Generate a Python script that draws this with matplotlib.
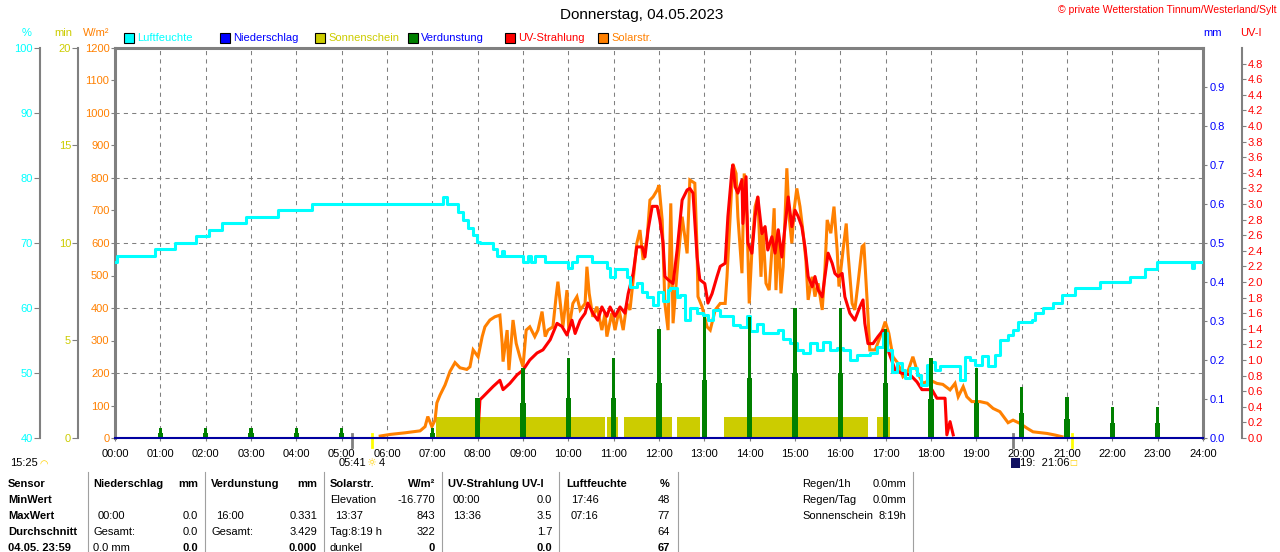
import numpy as np
import matplotlib.pyplot as plt
from matplotlib.lines import Line2D
from matplotlib.patches import Rectangle

plt.rcParams['font.family'] = ['Liberation Sans', 'DejaVu Sans']

W, H = 1280, 552

# ---------------- Daten (Zeit in Stunden) ----------------
# Luftfeuchte [%]
hum_t = [0.00, 0.05, 0.88, 1.32, 1.79, 2.08, 2.37, 2.89, 3.59, 4.35, 7.24, 7.32, 7.50, 7.57,
         7.68, 7.79, 7.90, 7.99, 8.05, 8.34, 8.43, 8.54, 8.58, 8.93, 9.00, 9.11, 9.18, 9.26,
         9.49, 9.99, 10.08, 10.19, 10.52, 10.85, 10.92, 11.03, 11.21, 11.29, 11.36, 11.51,
         11.63, 11.74, 11.87, 11.98, 12.09, 12.20, 12.24, 12.40, 12.46, 12.57, 12.68, 12.84,
         12.97, 13.08, 13.19, 13.35, 13.50, 13.63, 13.79, 13.94, 14.01, 14.16, 14.29, 14.52,
         14.63, 14.74, 14.89, 15.04, 15.18, 15.33, 15.49, 15.62, 15.77, 15.93, 16.06, 16.21,
         16.37, 16.50, 16.65, 16.81, 16.94, 17.03, 17.14, 17.25, 17.36, 17.43, 17.54, 17.69,
         17.77, 17.91, 17.98, 18.09, 18.20, 18.57, 18.64, 18.75, 18.86, 18.97, 19.13, 19.26,
         19.41, 19.52, 19.70, 19.81, 19.92, 20.23, 20.29, 20.47, 20.69, 20.89, 21.18, 21.73,
         22.39, 22.72, 22.99, 23.71, 23.76, 23.80, 24.00]
hum_v = [67.1, 68, 69, 70, 71, 72, 73, 74, 75, 76, 77, 76, 76, 74.8,
         73.5, 72.3, 71.2, 70.2, 70, 69, 68, 68.8, 68, 68, 67.1, 68, 67.1, 68,
         67.1, 66.1, 67.1, 68, 67.1, 66.1, 64.8, 66, 66, 64.8, 63.3, 63.8,
         62.5, 61.7, 60.5, 62.5, 61, 62.8, 63, 61.7, 62, 58.2, 60, 59.2,
         58.9, 58.2, 59.7, 58.7, 58.7, 57.4, 57.1, 58.7, 56.4, 57.6, 56.1, 56.1,
         56.6, 55.3, 54.6, 53.5, 53, 54.6, 53.5, 54.8, 53.5, 53.8, 53.5, 52,
         52.8, 52.8, 53, 54, 56.1, 53.5, 50.2, 51.5, 50.5, 49.2, 50.7, 49.7,
         48.2, 51.2, 51.7, 50.5, 51, 51.1, 48.9, 52.5, 52, 51.2, 52.6, 51.1,
         52.8, 55.1, 55.8, 56.6, 57.9, 58.2, 59.2, 60, 60.8, 62, 63, 64,
         64.8, 66, 67, 67, 66.1, 67, 67]

# Solarstrahlung [W/m2]
sol_t = [5.85, 6.07, 6.40, 6.73, 6.84, 6.90, 6.99, 7.06, 7.10, 7.17, 7.28, 7.39, 7.50, 7.61,
         7.76, 7.83, 7.90, 8.01, 8.10, 8.16, 8.27, 8.38, 8.49, 8.54, 8.56, 8.65, 8.69, 8.78,
         8.85, 8.93, 9.00, 9.07, 9.15, 9.26, 9.33, 9.42, 9.49, 9.55, 9.66, 9.73, 9.77, 9.84,
         9.88, 9.97, 10.01, 10.10, 10.19, 10.26, 10.37, 10.41, 10.46, 10.54, 10.63, 10.74,
         10.81, 10.85, 10.96, 11.03, 11.12, 11.21, 11.29, 11.36, 11.43, 11.51, 11.58, 11.65,
         11.74, 11.80, 11.87, 11.96, 12.00, 12.07, 12.13, 12.20, 12.26, 12.31, 12.42, 12.51,
         12.62, 12.68, 12.79, 12.84, 12.86, 12.95, 13.06, 13.13, 13.24, 13.35, 13.46, 13.50,
         13.57, 13.63, 13.70, 13.74, 13.83, 13.88, 13.94, 13.99, 14.05, 14.12, 14.18, 14.25,
         14.29, 14.36, 14.43, 14.49, 14.54, 14.58, 14.63, 14.69, 14.74, 14.82, 14.87, 14.93,
         14.98, 15.04, 15.11, 15.18, 15.24, 15.29, 15.38, 15.44, 15.51, 15.60, 15.66, 15.71,
         15.79, 15.86, 15.93, 15.97, 16.06, 16.13, 16.17, 16.26, 16.32, 16.39, 16.48, 16.52,
         16.59, 16.65, 16.77, 16.88, 16.99, 17.07, 17.16, 17.27, 17.38, 17.49, 17.60, 17.71,
         17.82, 17.98, 18.13, 18.26, 18.42, 18.53, 18.60, 18.71, 18.79, 18.90, 19.08, 19.24,
         19.37, 19.52, 19.70, 19.81, 19.96, 20.12, 20.25, 20.56, 20.74, 20.89]
sol_v = [6, 11, 16, 22, 35, 66, 35, 55, 108, 132, 163, 205, 232, 216,
         211, 219, 271, 250, 312, 342, 363, 373, 378, 292, 235, 332, 209, 363,
         291, 250, 219, 332, 342, 312, 332, 389, 312, 332, 342, 435, 481, 394,
         342, 455, 332, 414, 435, 394, 414, 527, 445, 373, 404, 332,
         384, 312, 384, 332, 394, 332, 414, 394, 486, 599, 640, 548,
         619, 732, 742, 763, 778, 671, 414, 332, 722, 353, 548, 681,
         568, 794, 784, 578, 435, 404, 342, 332, 394, 414, 414, 496,
         681, 843, 814, 681, 507, 814, 681, 414, 578, 712, 742, 496,
         650, 476, 455, 578, 707, 455, 640, 445, 527, 830, 681, 599,
         702, 768, 712, 630, 548, 425, 496, 435, 476, 394, 517, 671,
         630, 712, 578, 466, 578, 660, 568, 414, 394, 476, 589, 594,
         425, 271, 271, 312, 358, 322, 250, 230, 189, 205, 250, 199,
         168, 178, 168, 165, 148, 168, 127, 158, 127, 112, 112, 107,
         91, 81, 47, 55, 45, 30, 19, 14, 9, 4]

# UV-Strahlung [UV-I]
uv_t = [8.01, 8.05, 8.12, 8.34, 8.49, 8.56, 8.71, 8.87, 9.00, 9.15, 9.31, 9.44, 9.60, 9.75,
        9.86, 9.97, 10.08, 10.15, 10.26, 10.37, 10.43, 10.54, 10.65, 10.74, 10.85, 10.92,
        11.03, 11.14, 11.25, 11.32, 11.43, 11.51, 11.63, 11.69, 11.76, 11.85, 11.96, 12.02,
        12.09, 12.13, 12.20, 12.31, 12.40, 12.51, 12.62, 12.68, 12.75, 12.84, 12.90, 13.01,
        13.08, 13.17, 13.28, 13.35, 13.46, 13.52, 13.61, 13.63, 13.68, 13.74, 13.83, 13.85,
        13.92, 13.96, 14.05, 14.12, 14.18, 14.27, 14.34, 14.40, 14.49, 14.56, 14.63, 14.71,
        14.78, 14.85, 14.93, 15.00, 15.07, 15.15, 15.22, 15.29, 15.38, 15.44, 15.51, 15.60,
        15.66, 15.73, 15.82, 15.88, 15.95, 16.04, 16.10, 16.21, 16.32, 16.43, 16.50, 16.54,
        16.61, 16.72, 16.83, 16.94, 17.05, 17.21, 17.36, 17.54, 17.69, 17.80, 18.02, 18.13,
        18.31, 18.35, 18.42, 18.49]
uv_v = [0.10, 0.49, 0.53, 0.66, 0.74, 0.62, 0.70, 0.81, 0.87, 1.00, 1.09, 1.13, 1.26, 1.47,
        1.43, 1.32, 1.51, 1.34, 1.51, 1.60, 1.73, 1.60, 1.51, 1.68, 1.56, 1.68,
        1.56, 1.68, 1.60, 1.85, 2.11, 2.45, 2.45, 2.32, 2.67, 2.97, 2.97, 2.79,
        2.50, 2.07, 2.03, 1.98, 2.41, 3.05, 3.18, 3.20, 3.14, 2.32, 2.03, 1.98,
        1.73, 1.85, 2.07, 2.20, 2.24, 2.84, 3.44, 3.50, 3.22, 3.14, 3.31, 2.75,
        3.35, 2.50, 2.37, 2.84, 3.09, 2.62, 2.71, 2.41, 2.58, 2.37, 2.67, 2.32,
        2.71, 3.09, 2.71, 2.92, 2.84, 2.71, 2.45, 2.07, 1.94, 2.07, 1.90, 1.81,
        2.07, 2.37, 2.24, 2.11, 2.07, 2.11, 1.81, 1.60, 1.51, 1.68, 1.77, 1.47,
        1.21, 1.21, 1.30, 1.38, 1.13, 0.87, 0.83, 0.81, 0.72, 0.62, 0.62, 0.51,
        0.51, 0.04, 0.21, 0.04]

# Verdunstung [mm] je Stunde (Spitze / Sockel)
evap_h = list(range(1, 24))
evap_hi = [0.026, 0.026, 0.026, 0.026, 0.026, 0.0, 0.026, 0.102, 0.179, 0.205, 0.205, 0.28,
           0.31, 0.31, 0.333, 0.333, 0.28, 0.205, 0.18, 0.13, 0.104, 0.079, 0.079]
evap_lo = [0.012, 0.012, 0.012, 0.012, 0.012, 0.0, 0.012, 0.102, 0.089, 0.102, 0.102, 0.14,
           0.149, 0.153, 0.166, 0.166, 0.14, 0.10, 0.09, 0.063, 0.05, 0.038, 0.038]

# Sonnenschein [min] Abschnitte
sun_start = [7.08, 10.85, 11.23, 12.40, 13.43, 16.81]
sun_end = [10.81, 11.10, 12.29, 12.90, 16.61, 17.10]
sun_val = [1.1, 1.1, 1.1, 1.1, 1.1, 1.1]

# Niederschlag [mm]
rain_t = [0, 24]
rain_v = [0.0, 0.0]

# Sonnenauf-/untergang, Daemmerung
sun_rise, sun_set = 5.68, 21.10
dawn, dusk = 5.22, 19.81

hours = list(range(25))
hour_labels = ['%02d:00' % h for h in hours]

C_CYAN = '#00FFFF'
C_BLUE = '#0000FF'
C_OLIVE = '#CCCC00'
C_GREEN = '#008000'
C_RED = '#FF0000'
C_ORANGE = '#FF8000'
C_GRAY = '#808080'

fig = plt.figure(figsize=(W / 100, H / 100), dpi=100)
fig.patch.set_facecolor('white')


def px(x, y):
    return x / W, 1 - y / H


def ftext(x, y, s, **kw):
    kw.setdefault('va', 'center')
    kw.setdefault('fontsize', 8)
    fig.text(*px(x, y), s, **kw)


ax = fig.add_axes([115 / W, 1 - 438 / H, 1088 / W, 390 / H])
ax.set_zorder(2)
ax.patch.set_visible(False)

ax_s = ax.twinx()
ax_s.set_zorder(1)
ax_uv = ax.twinx()
ax_uv.set_zorder(3)
ax_h = ax.twinx()
ax_h.set_zorder(4)
ax_mm = ax.twinx()
ax_mm.set_zorder(5)

# Hauptachse W/m2
ax.set_xlim(0, 24)
ax.set_ylim(0, 1200)
ax.set_xticks(hours)
ax.set_xticklabels(hour_labels)
ax.set_yticks(range(0, 1300, 100))
ax.tick_params(axis='y', direction='out', length=3, color=C_GRAY, labelcolor=C_ORANGE,
               labelsize=8, pad=1)
ax.tick_params(axis='x', direction='out', length=2, color=C_GRAY, labelsize=8, pad=6)
ax.grid(axis='x', color=C_GRAY, linestyle=(0, (4, 4)), linewidth=0.75)
for g in range(200, 1200, 200):
    ax.axhline(g, color=C_GRAY, linestyle=(0, (4, 4)), linewidth=0.75, zorder=0.5)
for side in ['left', 'top', 'right']:
    ax.spines[side].set_color(C_GRAY)
    ax.spines[side].set_linewidth(2.2)
ax.spines['bottom'].set_visible(False)

ax.plot(sol_t, sol_v, color=C_ORANGE, lw=2.2, solid_joinstyle='miter')

# Sonnenschein
ax_s.set_ylim(0, 20)
ax_s.bar(sun_start, sun_val, width=np.array(sun_end) - np.array(sun_start), align='edge',
         color=C_OLIVE, linewidth=0)
ax_s.yaxis.tick_left()
ax_s.set_yticks([0, 5, 10, 15, 20])
ax_s.tick_params(axis='y', direction='out', length=4, color=C_GRAY, labelcolor=C_OLIVE,
                 labelsize=8, pad=1)
for side in ['right', 'top', 'bottom']:
    ax_s.spines[side].set_visible(False)
ax_s.spines['left'].set_position(('axes', (78 - 115) / 1088))
ax_s.spines['left'].set_color(C_GRAY)
ax_s.spines['left'].set_linewidth(1.5)

# UV
ax_uv.set_ylim(0, 5)
ax_uv.plot(uv_t, uv_v, color=C_RED, lw=2.2)
ax_uv.set_yticks(np.arange(0, 4.81, 0.2))
ax_uv.set_yticklabels(['%.1f' % v for v in np.arange(0, 4.81, 0.2)])
ax_uv.tick_params(axis='y', direction='out', length=3, color=C_GRAY, labelcolor=C_RED,
                  labelsize=8, pad=1)
for side in ['left', 'top', 'bottom']:
    ax_uv.spines[side].set_visible(False)
ax_uv.spines['right'].set_position(('axes', (1242 - 115) / 1088))
ax_uv.spines['right'].set_color(C_GRAY)
ax_uv.spines['right'].set_linewidth(1.5)

# Luftfeuchte
ax_h.set_ylim(40, 100)
ax_h.plot(hum_t, hum_v, color=C_CYAN, lw=2.2, drawstyle='steps-post')
ax_h.yaxis.tick_left()
ax_h.set_yticks(range(40, 101, 10))
ax_h.tick_params(axis='y', direction='out', length=4, color=C_GRAY, labelcolor=C_CYAN,
                 labelsize=8, pad=1)
for side in ['right', 'top', 'bottom']:
    ax_h.spines[side].set_visible(False)
ax_h.spines['left'].set_position(('axes', (40 - 115) / 1088))
ax_h.spines['left'].set_color(C_GRAY)
ax_h.spines['left'].set_linewidth(1.5)

# Verdunstung + Niederschlag (mm)
ax_mm.set_ylim(0, 1)
ax_mm.bar(evap_h, evap_hi, width=0.07, color=C_GREEN, linewidth=0)
ax_mm.bar(evap_h, evap_lo, width=0.12, color=C_GREEN, linewidth=0)
ax_mm.plot(rain_t, rain_v, color='#0000A0', lw=1.5, clip_on=False)
ax_mm.set_yticks(np.arange(0, 0.91, 0.1))
ax_mm.set_yticklabels(['%.1f' % v for v in np.arange(0, 0.91, 0.1)])
ax_mm.tick_params(axis='y', direction='out', length=3, color=C_GRAY, labelcolor=C_BLUE,
                  labelsize=8, pad=2)
for side in ['left', 'top', 'bottom', 'right']:
    ax_mm.spines[side].set_visible(False)

# Markierungen Sonnenauf-/untergang unter der Achse
for t, c in [(dawn, C_GRAY), (dusk, C_GRAY), (sun_rise, '#FFFF00'), (sun_set, '#FFFF00')]:
    ax.plot([t, t], [-28, 12], color=c, lw=2, clip_on=False, zorder=6)

# Titel, Copyright, Einheiten
ftext(642, 15, 'Donnerstag, 04.05.2023', ha='center', fontsize=11)
ftext(1276, 10, '\u00a9 private Wetterstation Tinnum/Westerland/Sylt', ha='right',
      fontsize=7.5, color=C_RED)
ftext(27, 33, '%', ha='center', color=C_CYAN)
ftext(63, 33, 'min', ha='center', color=C_OLIVE)
ftext(96, 33, 'W/m\u00b2', ha='center', color=C_ORANGE)
ftext(1213, 33, 'mm', ha='center', color=C_BLUE)
ftext(1251, 33, 'UV-I', ha='center', color=C_RED)

# Legende
leg_names = ['Luftfeuchte', 'Niederschlag', 'Sonnenschein', 'Verdunstung', 'UV-Strahlung',
             'Solarstr.']
leg_fill = [C_CYAN, C_BLUE, C_OLIVE, C_GREEN, C_RED, C_ORANGE]
leg_text = [C_CYAN, C_BLUE, C_OLIVE, C_BLUE, C_RED, C_ORANGE]
leg_x = [124, 220, 315, 408, 505, 598]
for name, fc, tc, x in zip(leg_names, leg_fill, leg_text, leg_x):
    fig.add_artist(Rectangle(px(x, 43), 10 / W, 10 / H, facecolor=fc, edgecolor='black',
                             linewidth=0.8, transform=fig.transFigure))
    ftext(x + 13, 38, name, color=tc)

# Texte unter der Zeitachse
ftext(10, 463, '15:25')
ftext(44, 464, '\u25e0', color='#FFD000', ha='center', fontsize=7, family='DejaVu Sans')
ftext(339, 463, '05:41')
ftext(371, 463, '\u263c', color='#FFD000', ha='center', fontsize=8, family='DejaVu Sans')
ftext(379, 463, '4')
fig.add_artist(Rectangle(px(1011, 468), 9 / W, 10 / H, facecolor='#101060',
                         edgecolor='none', transform=fig.transFigure))
ftext(1020, 463, '19:  21:06')
ftext(1073, 463, '\u25a1', color='#FFD000', ha='center', fontsize=6, family='DejaVu Sans')

# Tabelle
rows_y = [484, 500, 516, 532, 548]
row_names = ['Sensor', 'MinWert', 'MaxWert', 'Durchschnitt', '04.05. 23:59']
for y, s in zip(rows_y, row_names):
    ftext(8, y, s, fontweight='bold')

for x in [88, 205, 324, 442, 559, 678, 913]:
    fig.add_artist(Line2D([x / W, x / W], [1 - 472 / H, 0], color='#A0A0A0', lw=0.8,
                          transform=fig.transFigure))

# (x links, x rechts, Kopf, Einheit, Zeilen: (links, rechts))
cols = [
    (93, 198, 'Niederschlag', 'mm',
     [('', ''), (' 00:00', '0.0'), ('Gesamt:', '0.0'), ('0.0 mm', '0.0')]),
    (211, 317, 'Verdunstung', 'mm',
     [('', ''), (' 16:00', '0.331'), ('Gesamt:', '3.429'), ('', '0.000')]),
    (330, 435, 'Solarstr.', 'W/m\u00b2',
     [('Elevation', '-16.770'), (' 13:37', '843'), ('Tag:8:19 h', '322'), ('dunkel', '0')]),
    (448, 552, 'UV-Strahlung UV-I', '',
     [(' 00:00', '0.0'), (' 13:36', '3.5'), ('', '1.7'), ('', '0.0')]),
    (566, 670, 'Luftfeuchte', '%',
     [(' 17:46', '48'), (' 07:16', '77'), ('', '64'), ('', '67')]),
]
for xl, xr, head, unit, vals in cols:
    ftext(xl, rows_y[0], head, fontweight='bold')
    if unit:
        ftext(xr, rows_y[0], unit, ha='right', fontweight='bold')
    for i, (lt, rt) in enumerate(vals):
        y = rows_y[i + 1]
        last = i == len(vals) - 1
        if lt:
            ftext(xl + (5 if lt.startswith(' ') else 0), y, lt.strip())
        if rt:
            ftext(xr, y, rt, ha='right', fontweight='bold' if last else 'normal')

extra_l = ['Regen/1h', 'Regen/Tag', 'Sonnenschein']
extra_r = ['0.0mm', '0.0mm', '8:19h']
for y, a, b in zip(rows_y[:3], extra_l, extra_r):
    ftext(802, y, a)
    ftext(906, y, b, ha='right')

fig.savefig('out.png', dpi=100)
